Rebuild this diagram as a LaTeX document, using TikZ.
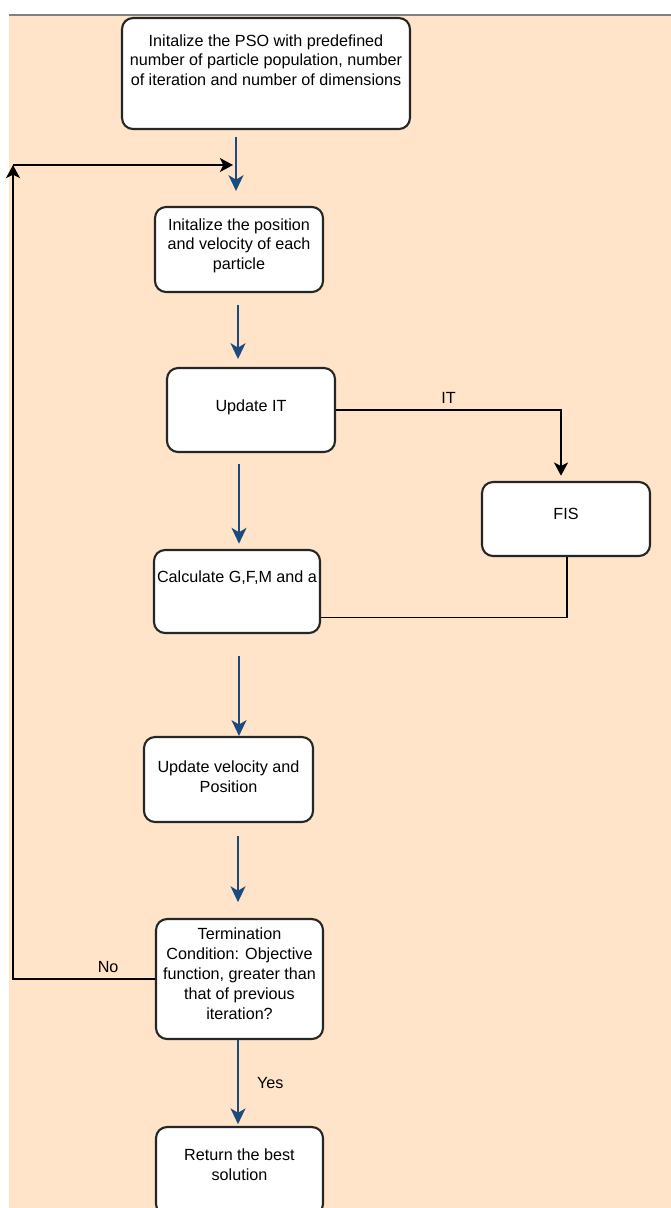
\documentclass[tikz,border=0pt]{standalone}
\usepackage{fontspec}
\setmainfont{Liberation Sans}
\usepackage{xcolor}
\usetikzlibrary{arrows.meta,calc}

\definecolor{peach}{HTML}{FFE4C9}
\definecolor{flowblue}{HTML}{1B4B7E}
\definecolor{boxline}{HTML}{262626}

\begin{document}
\begin{tikzpicture}[x=0.02cm, y=-0.02cm,
  every node/.style={font=\fontsize{9.2}{11.3}\selectfont},
  stepbox/.style 2 args={draw=boxline, line width=1.2pt, fill=white, rounded corners=0.22cm,
    align=center, inner sep=1pt, minimum width=#1, minimum height=#2},
  flow/.style={draw=flowblue, line width=1.1pt, -{Stealth[length=9pt, width=8.5pt, inset=2.5pt]}},
  link/.style={draw=black, line width=1.1pt},
  linkarrow/.style={link, -{Stealth[length=7.5pt, width=8pt, inset=2pt]}}]

  \useasboundingbox (0,0) rectangle (671,1208);
  \clip (0,0) rectangle (671,1208);

  % fond
  \fill[peach] (9,15) rectangle (671,1208);
  \draw[gray, line width=1.2pt] (9,15) -- (671,15);

  % Initialisation PSO
  \node[stepbox={5.76cm}{2.22cm}] (init) at (266,73.5)
    {Initalize the PSO with predefined\\ number of particle population, number\\ of iteration and number of dimensions\\[4pt]};

  % Position et vitesse
  \node[stepbox={3.36cm}{1.70cm}] (initpos) at (239,249.5)
    {Initalize the position\\ and velocity of each\\ particle\\[-5.1pt]};

  % Update IT
  \node[stepbox={3.36cm}{1.68cm}] (updit) at (251,410) {Update IT\\[-6.8pt]};

  % FIS
  \node[stepbox={3.36cm}{1.48cm}] (fis) at (566,519) {FIS\\[-5.6pt]};

  % Calcul
  \node[stepbox={3.32cm}{1.66cm}] (calc) at (237,591.5) {Calculate G,F,M and a\\[5.1pt]};

  % Vitesse et position
  \node[stepbox={3.38cm}{1.70cm}] (updvel) at (228.5,779.5) {Update velocity and\\ Position\\[-8.5pt]};

  % Condition d'arret
  \node[stepbox={3.34cm}{2.40cm}] (term) at (239.5,979)
    {Termination\\ Condition: Objective\\ function, greater than\\ that of previous\\ iteration?\\[-5.1pt]};

  % Resultat
  \node[stepbox={3.34cm}{1.76cm}] (ret) at (239.5,1171) {Return the best\\ solution\\[-3.9pt]};

  % axe des fleches
  \coordinate (axis) at (238,0);
  \coordinate (loopc) at (13,165);
  \coordinate (loopend) at (233,165);

  % Fleches principales
  \draw[flow, shorten <=4pt, shorten >=8.5pt] ([xshift=-0.04cm]init.south -| axis) -- ([xshift=-0.04cm]initpos.north -| axis);
  \draw[flow, shorten <=7pt, shorten >=4.5pt] (initpos.south -| axis) -- (updit.north -| axis);
  \draw[flow, shorten <=6pt, shorten >=3pt] ([xshift=0.02cm]updit.south -| axis) -- ([xshift=0.02cm]calc.north -| axis);
  \draw[flow, shorten <=12.5pt] ([xshift=0.02cm]calc.south -| axis) -- ([xshift=0.02cm]updvel.north -| axis);
  \draw[flow, shorten <=7.5pt, shorten >=9pt] (updvel.south -| axis) -- (term.north -| axis);
  \draw[flow, shorten >=1pt] (term.south -| axis) -- node[right, xshift=7pt] {Yes} (ret.north -| axis);

  % IT vers FIS
  \draw[linkarrow, shorten >=3pt] (updit.east) -- node[above, pos=0.5] {IT} ($(updit.east -| fis.north)+(-5,0)$) -- ($(fis.north)+(-5,0)$);
  \draw[link] ($(fis.south)+(1,0)$) |- ($(calc.east)+(0,26)$);

  % Boucle
  \draw[linkarrow] (term.west) -- node[above, pos=0.33] {No} (term.west -| loopc) -- (loopc);
  \draw[linkarrow] (loopc) -- (loopend);
\end{tikzpicture}
\end{document}
